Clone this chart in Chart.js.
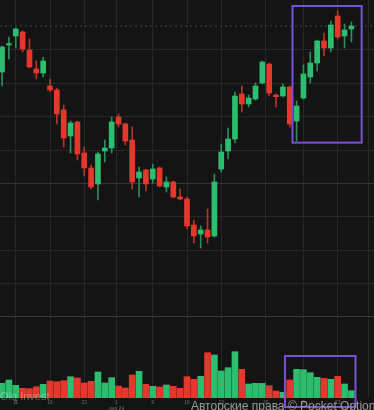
<!DOCTYPE html>
<html>
<head>
<meta charset="utf-8">
<script src="https://cdn.jsdelivr.net/npm/chart.js@4.4.1/dist/chart.umd.min.js"></script>
<style>
  body { margin: 0; background: #141414; width: 374px; height: 410px; overflow: hidden; position: relative; font-family: "Liberation Sans", Arial, sans-serif; }
  canvas { display: block; }
  .wm { position: absolute; white-space: nowrap; line-height: 12px; }
  #brand { left: 0; top: 390px; font-size: 11px; color: rgba(255, 255, 255, 0.32); }
  #copy { left: 191px; top: 400px; font-size: 12px; color: #9c9c9c; }
</style>
</head>
<body>
<canvas id="price" width="374" height="316"></canvas>
<canvas id="volume" width="374" height="94"></canvas>
<div class="wm" id="brand">Olq Invest</div>
<div class="wm" id="copy">Авторские права © Pocket Option</div>
<script>
// candles
const opens  = [734,815,842,854,800,743,731,692,680,620,542,584,491,446,398,497,506,599,578,530,416,440,413,446,389,404,359,353,275,248,260,242,443,497,533,668,638,653,701,758,665,662,689,587,656,719,761,827,806,902,842,863];
const highs  = [812,839,866,857,833,767,779,713,686,635,587,587,509,455,494,530,599,608,581,569,449,443,458,449,419,407,383,359,290,272,323,428,518,566,674,692,665,701,767,761,668,698,692,647,755,794,830,851,887,917,878,884];
const lows   = [692,773,806,794,746,713,719,674,578,509,491,470,422,383,350,464,491,569,515,383,359,377,401,389,374,356,350,263,221,206,221,239,434,473,521,614,629,650,698,662,629,659,569,527,653,701,737,782,794,833,806,824];
const closes = [809,819,863,803,749,731,767,680,608,536,581,488,446,389,488,506,584,578,527,404,434,398,443,392,404,359,353,272,242,260,239,404,494,533,662,638,656,692,764,671,660,689,578,632,728,761,827,806,875,839,860,872];
const volumes = [1470,1800,1270,970,930,1130,1370,1700,1630,1730,2130,2000,1500,1670,2600,1500,2030,1200,1000,2300,2670,1370,1170,1100,1300,1170,970,2130,1870,2170,4530,4300,2700,3030,4630,2870,1400,1470,1470,1230,700,570,1800,2870,2830,2530,2070,1970,1870,2170,1400,730];

// time axis ticks (candle index -> label)
const tickPos = [2, 7, 12, 16.7, 22, 27, 32, 38.5, 44, 49, 53.5];
const tickLabels = ['11', '16', '23', ['1', 'янв 24'], '9', '16', '23', '30', '6', '13', ''];
const priceGrid = [100, 200, 300, 400, 500, 600, 700, 800];

// highlighted zones: [fromIndex, toIndex, low, high]
const priceZone = [42.4, 52.5, 522, 932];
const volumeZone = [41.3, 51.6, -900, 4200];

const xMin = -0.3, xMax = 54.3;
const UP = '#2dbd6e', DOWN = '#e5382d';
const UP_WICK = '#2a9058', DOWN_WICK = '#b9332a';
const GRID = '#272727';

const idx = opens.map((o, i) => i);
const isUp = idx.map(i => closes[i] >= opens[i]);
const last = closes[closes.length - 1];

function zonePlugin(zone) {
  return {
    id: 'zone',
    afterDraw(chart) {
      const ctx = chart.ctx;
      const x = chart.scales.x, y = chart.scales.y;
      const l = x.getPixelForValue(zone[0]), r = x.getPixelForValue(zone[1]);
      const b = y.getPixelForValue(zone[2]), t = y.getPixelForValue(zone[3]);
      ctx.save();
      ctx.strokeStyle = '#7b4fd6';
      ctx.lineWidth = 2;
      ctx.strokeRect(l, t, r - l, b - t);
      ctx.restore();
    }
  };
}

new Chart(document.getElementById('price'), {
  type: 'bar',
  data: {
    datasets: [
      {
        type: 'line', order: 3,
        data: [{ x: xMin, y: last }, { x: xMax, y: last }],
        borderColor: '#3c4d46', borderWidth: 1, borderDash: [2, 3], pointRadius: 0
      },
      {
        order: 2, grouped: false, barThickness: 1,
        data: idx.map(i => ({ x: i, y: [lows[i], highs[i]] })),
        backgroundColor: idx.map(i => isUp[i] ? UP_WICK : DOWN_WICK)
      },
      {
        order: 1, grouped: false, barThickness: 5,
        data: idx.map(i => ({ x: i, y: [opens[i], closes[i]] })),
        backgroundColor: idx.map(i => isUp[i] ? UP : DOWN)
      }
    ]
  },
  options: {
    responsive: false, animation: false,
    layout: { padding: 0 },
    plugins: { legend: { display: false }, tooltip: { enabled: false } },
    scales: {
      x: {
        type: 'linear', min: xMin, max: xMax, offset: false,
        ticks: { display: false },
        grid: { color: GRID, drawTicks: false, offset: false },
        border: { display: false },
        afterBuildTicks: s => { s.ticks = tickPos.map(v => ({ value: v })); },
        afterFit: s => { s.height = 0; }
      },
      y: {
        min: 2, max: 950,
        ticks: { display: false },
        grid: { drawTicks: false, color: c => c.tick && c.tick.value === 400 ? '#363636' : GRID },
        border: { display: false },
        afterBuildTicks: s => { s.ticks = priceGrid.map(v => ({ value: v })); },
        afterFit: s => { s.width = 0; }
      }
    }
  },
  plugins: [zonePlugin(priceZone)]
});

new Chart(document.getElementById('volume'), {
  type: 'bar',
  data: {
    datasets: [{
      grouped: false, barThickness: 6,
      data: idx.map(i => ({ x: i, y: volumes[i] })),
      backgroundColor: idx.map(i => isUp[i] ? UP : DOWN)
    }]
  },
  options: {
    responsive: false, animation: false,
    layout: { padding: 0 },
    plugins: { legend: { display: false }, tooltip: { enabled: false } },
    scales: {
      x: {
        type: 'linear', min: xMin, max: xMax, offset: false,
        ticks: {
          autoSkip: false, maxRotation: 0, padding: 2,
          color: '#6c6c6c', font: { size: 5, family: 'Liberation Sans' },
          callback: (v, i) => tickLabels[i]
        },
        grid: { color: GRID, drawTicks: false, offset: false },
        border: { display: false },
        afterBuildTicks: s => { s.ticks = tickPos.map(v => ({ value: v })); },
        afterFit: s => { s.height = 12; }
      },
      y: {
        min: 0, max: 8200,
        ticks: { display: false },
        grid: { drawTicks: false, color: '#3d3d3d' },
        border: { display: false },
        afterBuildTicks: s => { s.ticks = [{ value: 8200 }]; },
        afterFit: s => { s.width = 0; }
      }
    }
  },
  plugins: [zonePlugin(volumeZone)]
});
</script>
</body>
</html>
